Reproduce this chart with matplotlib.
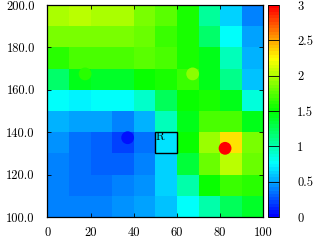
import numpy as np
import matplotlib
matplotlib.use("Agg")
import matplotlib.pyplot as plt
from matplotlib.colors import LinearSegmentedColormap, Normalize
from matplotlib.patches import Rectangle

plt.rcParams['font.family'] = ['cmr10', 'DejaVu Serif']
plt.rcParams['axes.formatter.use_mathtext'] = True

# grid edges
x_edges = [0, 10, 20, 30, 40, 50, 60, 70, 80, 90, 100]
y_edges = [100, 110, 120, 130, 140, 150, 160, 170, 180, 190, 200]

# cell values, rows from bottom (y=100..110) to top (y=190..200)
row_100 = [0.41, 0.38, 0.41, 0.44, 0.50, 0.59, 0.75, 1.03, 1.24, 1.38]
row_110 = [0.38, 0.35, 0.35, 0.38, 0.44, 0.62, 1.00, 1.53, 1.68, 1.62]
row_120 = [0.41, 0.35, 0.29, 0.32, 0.38, 0.62, 1.32, 1.82, 2.03, 1.82]
row_130 = [0.44, 0.35, 0.29, 0.20, 0.35, 0.68, 1.53, 1.94, 2.32, 1.85]
row_140 = [0.56, 0.51, 0.47, 0.41, 0.53, 0.94, 1.45, 1.73, 1.70, 1.41]
row_150 = [0.75, 0.74, 0.75, 0.75, 0.91, 1.24, 1.50, 1.56, 1.44, 0.88]
row_160 = [1.18, 1.45, 1.38, 1.38, 1.53, 1.59, 1.65, 1.41, 1.12, 0.59]
row_170 = [1.62, 1.70, 1.73, 1.73, 1.76, 1.73, 1.56, 1.41, 0.94, 0.53]
row_180 = [1.85, 1.87, 1.87, 1.85, 1.79, 1.68, 1.56, 1.20, 0.75, 0.50]
row_190 = [2.00, 2.02, 2.00, 1.97, 1.85, 1.76, 1.55, 1.06, 0.65, 0.41]

# scatter points
pt_x = [37.2, 82.3, 67.3, 17.5]
pt_y = [137.4, 132.4, 167.5, 167.5]
pt_v = [0.05, 3.0, 1.88, 1.62]

# labelled rectangle
rect_x, rect_y, rect_w, rect_h = 50, 130, 10, 10
rect_label = "R"

x_ticks = [0, 20, 40, 60, 80, 100]
y_ticks = [100, 120, 140, 160, 180, 200]
cbar_ticks = [0, 0.5, 1, 1.5, 2, 2.5, 3]
cbar_labels = ["0", "0.5", "1", "1.5", "2", "2.5", "3"]

Z = np.array([row_100, row_110, row_120, row_130, row_140,
              row_150, row_160, row_170, row_180, row_190])

cmap = LinearSegmentedColormap.from_list(
    "bcgyr", [(0, 0, 1), (0, 1, 1), (0, 1, 0), (1, 1, 0), (1, 0, 0)], N=64)
norm = Normalize(0, 3)

fig = plt.figure(figsize=(3.17, 2.42), dpi=100)
ax = fig.add_axes([47.3 / 317, 1 - 217 / 242, 216 / 317, 212 / 242])
cax = fig.add_axes([268 / 317, 1 - 217 / 242, 11 / 317, 212 / 242])

mesh = ax.pcolormesh(x_edges, y_edges, Z, cmap=cmap, norm=norm,
                     shading='flat', edgecolors='face', linewidth=0.0)
ax.scatter(pt_x, pt_y, c=pt_v, cmap=cmap, norm=norm, s=85,
           edgecolors='none', zorder=3)

ax.add_patch(Rectangle((rect_x, rect_y), rect_w, rect_h, facecolor='none',
                       edgecolor='black', linewidth=1.0, zorder=4))
ax.text(rect_x + 0.3, rect_y + rect_h - 0.3, rect_label, ha='left', va='top',
        fontsize=8.5, color='black', zorder=5)

ax.set_xlim(0, 100)
ax.set_ylim(100, 200)
ax.set_xticks(x_ticks)
ax.set_xticklabels([str(t) for t in x_ticks])
ax.set_yticks(y_ticks)
ax.set_yticklabels([f"{t:.1f}" for t in y_ticks])
ax.tick_params(direction='in', length=3, width=0.6, labelsize=9,
               top=True, right=True, pad=9)
ax.tick_params(axis='x', pad=7)
for s in ax.spines.values():
    s.set_linewidth(0.9)

cb = fig.colorbar(mesh, cax=cax)
cb.set_ticks(cbar_ticks)
cb.set_ticklabels(cbar_labels)
cb.ax.tick_params(direction='in', length=8, width=0.6, labelsize=9, pad=13)
cb.outline.set_linewidth(0.6)

fig.savefig("out.png", dpi=100)
